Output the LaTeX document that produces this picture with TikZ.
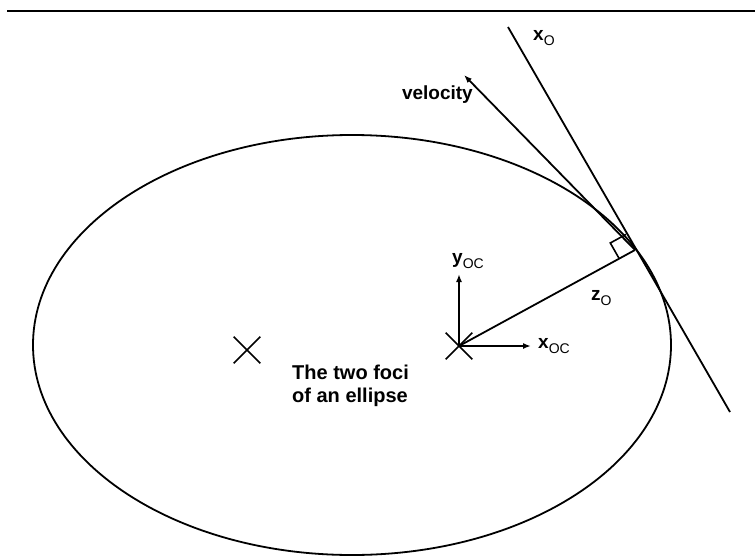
\documentclass[tikz,border=0pt]{standalone}
\usepackage{fontspec}
\setmainfont{Liberation Sans}
\usetikzlibrary{calc,arrows.meta,shapes.misc}
\newcommand{\sublbl}[2]{\textbf{#1}\raisebox{-5pt}{\fontsize{14}{14}\selectfont #2}}

\begin{document}
\begin{tikzpicture}[x=1pt, y=-1pt,
  curve/.style={line width=1.8pt, black},
  axis/.style={line width=1.8pt, -{Latex[length=8pt,width=6pt]}},
  focus/.style={cross out, draw=black, line width=1.6pt,
             minimum size=25pt, inner sep=0pt},
  lbl/.style={font=\fontsize{19}{19}\selectfont, inner sep=0pt},
]
\useasboundingbox (0,0) rectangle (755,557);
\coordinate (rl) at (7,11);
\coordinate (rr) at (755,11);
\draw[line width=1.8pt] (rl) -- (rr);

% orbit and its two foci
\coordinate (ctr) at (352,345);
\draw[curve] (ctr) ellipse [x radius=319, y radius=210];
\node[focus] (F1) at (247,350) {};
\node[focus] (F2) at (459,346) {};

% tangent, velocity and radius at the touching point
\coordinate (P)    at (635,250);
\coordinate (xtop) at (508,27);
\coordinate (xbot) at (730,412);
\coordinate (vtip) at (464,75);
\draw[curve] (xtop) -- (xbot);
\draw[axis] (P) -- (vtip);
\draw[curve] (F2.center) -- (P);
\coordinate (ra) at ($(P)!18pt!(F2.center)$);
\coordinate (rb) at ($(P)!18pt!(xtop)$);
\draw[line width=1.6pt] (ra) -- ($(ra)+(rb)-(P)$) -- (rb);

% frame at the focus
\coordinate (yax) at (459,274);
\coordinate (xax) at (531,346);
\draw[axis] (F2.center) -- (yax);
\draw[axis] (F2.center) -- (xax);

\node[lbl, anchor=base west] (lxo)  at (533,40)  {\sublbl{x}{O}};
\node[lbl, anchor=base east] (lvel) at (473,99)  {\textbf{velocity}};
\node[lbl, anchor=base west] (lyoc) at (452,263) {\sublbl{y}{OC}};
\node[lbl, anchor=base west] (lxoc) at (538,348) {\sublbl{x}{OC}};
\node[lbl, anchor=base west] (lzo)  at (591,300) {\sublbl{z}{O}};
\node[font=\fontsize{20}{23}\selectfont\bfseries, align=left,
      anchor=north west, inner sep=0pt] (foci) at (292,365)
  {The two foci\\of an ellipse};
\end{tikzpicture}
\end{document}
